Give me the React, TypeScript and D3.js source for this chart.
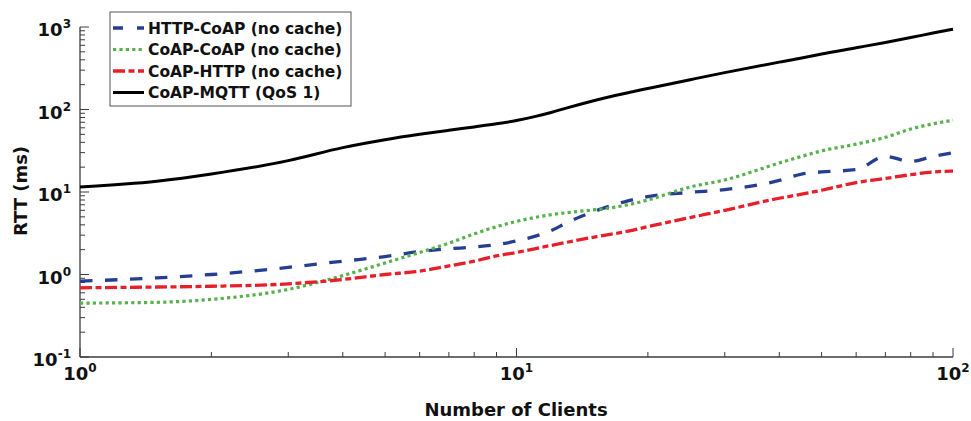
import React from "react";
import * as d3 from "d3";

const clients = [1, 1.5, 2, 3, 4, 5, 6, 7, 8, 9, 10, 11, 12, 13, 14, 16, 18, 20, 25, 30, 40, 45, 50, 60, 70, 80, 90, 100];

const httpCoap = [0.83, 0.91, 1.0, 1.22, 1.45, 1.65, 1.9, 2.05, 2.15, 2.3, 2.55, 2.9, 3.4, 4.2, 5.0, 6.5, 7.8, 8.8, 9.9, 10.7, 13.8, 16.5, 17.5, 18.7, 27, 23.5, 27, 29.8];
const coapCoap = [0.45, 0.46, 0.5, 0.66, 0.97, 1.38, 1.85, 2.4, 3.1, 3.8, 4.4, 4.9, 5.3, 5.6, 5.85, 6.3, 7.0, 8.0, 11.5, 14.0, 22.5, 27, 31.5, 38, 46, 58, 67, 74];
const coapHttp = [0.69, 0.705, 0.72, 0.77, 0.87, 1.0, 1.1, 1.27, 1.45, 1.68, 1.85, 2.05, 2.25, 2.45, 2.65, 3.0, 3.35, 3.8, 4.9, 6.0, 8.4, 9.4, 10.5, 13.0, 14.6, 16.2, 17.5, 17.9];
const coapMqtt = [11.5, 13.5, 16.5, 24, 34.5, 43, 50, 56, 61.5, 67, 73.5, 82, 92, 104, 116, 139, 160, 180, 230, 280, 375, 420, 470, 560, 650, 745, 845, 940];

const seriesNames = ["HTTP-CoAP (no cache)", "CoAP-CoAP (no cache)", "CoAP-HTTP (no cache)", "CoAP-MQTT (QoS 1)"];
const seriesValues = [httpCoap, coapCoap, coapHttp, coapMqtt];
const seriesColors = ["#263e91", "#57b14d", "#e5202a", "#000000"];
const seriesDash = ["12.5,12.5", "3.2,3.2", "12,3.5,6,3.5", ""];
const seriesWidth = [3.3, 3.2, 3.3, 3];

const xMajor = [1, 10, 100];
const xMajorExp = ["0", "1", "2"];
const yMajor = [0.1, 1, 10, 100, 1000];
const yMajorExp = ["-1", "0", "1", "2", "3"];

const FONT = "'DejaVu Sans', sans-serif";

export default function App() {
  const W = 971, H = 421;
  const left = 80, right = 953, top = 27, bottom = 357;
  const x = d3.scaleLog().domain([1, 100]).range([left, right]);
  const y = d3.scaleLog().domain([0.1, 1000]).range([bottom, top]);

  const line = (vals: number[]) =>
    d3
      .line<number>()
      .x((_, i) => x(clients[i]))
      .y((v) => y(v))
      .curve(d3.curveMonotoneX)(vals) || "";

  const xMinor: number[] = [];
  [1, 10].forEach((b) => { for (let k = 2; k <= 9; k++) xMinor.push(b * k); });
  const yMinor: number[] = [];
  [0.1, 1, 10, 100].forEach((b) => { for (let k = 2; k <= 9; k++) yMinor.push(b * k); });

  const axisColor = "#3c3c3c";
  const legendRows = [28, 49.5, 71, 92.5];

  return (
    <svg width={W} height={H} style={{ position: "absolute", left: 0, top: 0, background: "#fff" }} fontFamily={FONT}>
      <defs>
        <clipPath id="plotclip">
          <rect x={left} y={top - 4} width={right - left + 2} height={bottom - top + 4} />
        </clipPath>
      </defs>
      {/* axes */}
      <line x1={left} x2={right} y1={bottom} y2={bottom} stroke={axisColor} strokeWidth={1.3} />
      <line x1={left} x2={left} y1={top} y2={bottom} stroke={axisColor} strokeWidth={1.3} />
      {xMajor.map((v) => (
        <line key={"xM" + v} x1={x(v)} x2={x(v)} y1={bottom} y2={bottom - 9} stroke={axisColor} strokeWidth={1} />
      ))}
      {xMinor.map((v) => (
        <line key={"xm" + v} x1={x(v)} x2={x(v)} y1={bottom} y2={bottom - 5} stroke={axisColor} strokeWidth={1} />
      ))}
      {yMajor.map((v) => (
        <line key={"yM" + v} x1={left} x2={left + 9} y1={y(v)} y2={y(v)} stroke={axisColor} strokeWidth={1} />
      ))}
      {yMinor.map((v) => (
        <line key={"ym" + v} x1={left} x2={left + 5} y1={y(v)} y2={y(v)} stroke={axisColor} strokeWidth={1} />
      ))}
      {/* tick labels */}
      {xMajor.map((v, i) => (
        <text key={"xl" + v} x={x(v)} y={bottom + 23} textAnchor="middle" fontWeight="bold" fontSize={18} fill="#111">
          10<tspan fontSize={12} dy={-8}>{xMajorExp[i]}</tspan>
        </text>
      ))}
      {yMajor.map((v, i) => (
        <text key={"yl" + v} x={71} y={y(v) + 9} textAnchor="end" fontWeight="bold" fontSize={18} fill="#111">
          10<tspan fontSize={12} dy={-8}>{yMajorExp[i]}</tspan>
        </text>
      ))}
      {/* axis titles */}
      <text x={516} y={416} textAnchor="middle" fontWeight="bold" fontSize={18} fill="#111">Number of Clients</text>
      <text transform="translate(27,191) rotate(-90)" textAnchor="middle" fontWeight="bold" fontSize={18} fill="#111">RTT (ms)</text>
      {/* series */}
      <g clipPath="url(#plotclip)">
        {seriesValues.map((vals, i) => (
          <path key={"s" + i} d={line(vals)} fill="none" stroke={seriesColors[i]} strokeWidth={seriesWidth[i]}
            strokeDasharray={seriesDash[i] || undefined} strokeLinejoin="round" />
        ))}
      </g>
      {/* legend */}
      <rect x={110} y={12} width={241} height={94} fill="#fff" stroke="#555" strokeWidth={1} />
      {seriesNames.map((name, i) => (
        <g key={"lg" + i}>
          <line x1={113} x2={144} y1={legendRows[i]} y2={legendRows[i]} stroke={seriesColors[i]} strokeWidth={seriesWidth[i]}
            strokeDasharray={i === 0 ? "10,14" : seriesDash[i] || undefined} />
          <text x={148} y={legendRows[i] + 5.5} fontWeight="bold" fontSize={15.5} fill="#111">{name}</text>
        </g>
      ))}
    </svg>
  );
}
